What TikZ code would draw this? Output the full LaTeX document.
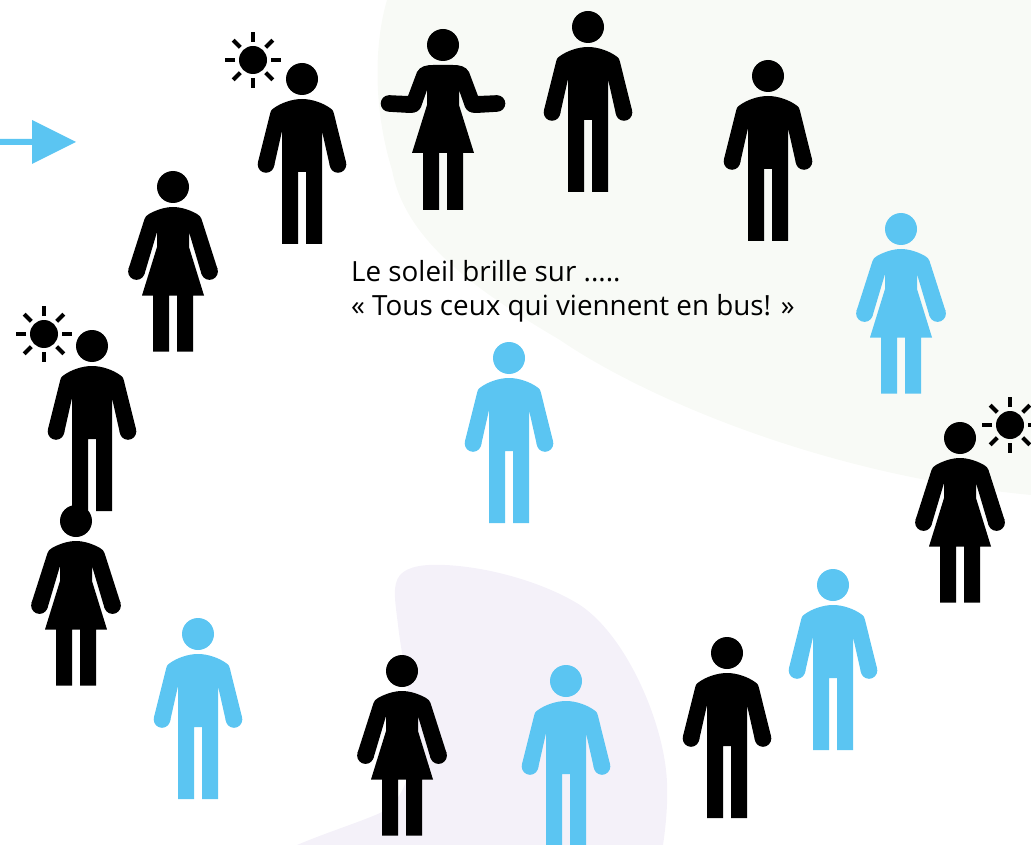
\documentclass[tikz,border=0pt]{standalone}
\usepackage{fontspec}
\setmainfont{Open Sans}
\definecolor{bluefig}{HTML}{5BC5F2}
\definecolor{blobgreen}{HTML}{F8FAF6}
\definecolor{blobpurple}{HTML}{F4F1F9}
\tikzset{
  canvas/.style={x=1pt,y=-1pt},
  caption/.style={anchor=base west,inner sep=0pt,font=\fontsize{27.8}{32}\selectfont},
}
\newcommand{\manfig}[3]{\begin{scope}[shift={(#1,#2)},fill=#3]
  \fill (0,0) circle (16);
  \fill (-36,85.5) circle (8.3) (36,85.5) circle (8.3);
  \fill (-32,35) .. controls (-31,31) and (-30,30) .. (-28,29) .. controls (-21,24) and (-10,20) .. (0,20)
    .. controls (10,20) and (21,24) .. (28,29) .. controls (30,30) and (31,31) .. (32,35)
    -- (44.1,83.5) -- (28,87.5) -- (20,52)
    -- (20,165) -- (4,165) -- (4,93) -- (-4,93) -- (-4,165) -- (-20,165) -- (-20,52)
    -- (-28,87.5) -- (-44.1,83.5) -- cycle;
\end{scope}}
\newcommand{\womanfig}[3]{\begin{scope}[shift={(#1,#2)},fill=#3]
  \fill (0,0) circle (16);
  \fill (-36.5,84.5) circle (8.4) (36.5,84.5) circle (8.4);
  \fill (-28.5,32) .. controls (-28,30) and (-26,28) .. (-24,27) .. controls (-17,23) and (-8,20) .. (0,20)
    .. controls (8,20) and (17,23) .. (24,27) .. controls (26,28) and (28,30) .. (28.5,32)
    -- (44.5,82) -- (28.5,87) -- (16,45) -- (16,60) -- (31,108.5)
    -- (20,108.5) -- (20,164.5) -- (4,164.5) -- (4,108.5) -- (-4,108.5) -- (-4,164.5) -- (-20,164.5) -- (-20,108.5) -- (-31,108.5)
    -- (-16,60) -- (-16,45) -- (-28.5,87) -- (-44.5,82) -- cycle;
\end{scope}}
\newcommand{\shrugfig}[3]{\begin{scope}[shift={(#1,#2)},fill=#3]
  \fill (0,0) circle (16);
  \fill (-54,58.5) circle (8.3) (54,58.5) circle (8.3);
  \fill (-26,27) .. controls (-23,21) and (-16,20) .. (-10,20) -- (10,20) .. controls (16,20) and (23,21) .. (26,27)
    -- (35,51) -- (54,50.2) -- (54,66.8) -- (33,68)
    .. controls (27,68) and (24,66) .. (22,62) -- (16,45) -- (16,60) -- (31,108)
    -- (20,108) -- (20,165) -- (4,165) -- (4,108) -- (-4,108) -- (-4,165) -- (-20,165) -- (-20,108) -- (-31,108)
    -- (-16,60) -- (-16,45) -- (-22,62) .. controls (-24,66) and (-27,68) .. (-33,68)
    -- (-54,66.8) -- (-54,50.2) -- (-35,51) -- cycle;
\end{scope}}
\newcommand{\sunfig}[2]{\begin{scope}[shift={(#1,#2)}]
  \fill (0,0) circle (14);
  \foreach \a in {0,45,...,315}{\draw[line width=4.2pt,rotate=\a] (18,0) -- (28,0);}
\end{scope}}
\begin{document}
\begin{tikzpicture}[canvas]
\useasboundingbox (0,0) rectangle (1031,845);
% background blobs
\fill[blobgreen] (387,0) .. controls (375,40) and (372,105) .. (392,170)
  .. controls (405,240) and (475,290) .. (560,340)
  .. controls (640,395) and (820,475) .. (1031,495) -- (1031,0) -- cycle;
\fill[blobpurple] (297,845) .. controls (325,833) and (360,822) .. (380,813)
  .. controls (400,803) and (412,780) .. (412,740)
  .. controls (412,700) and (402,660) .. (398,625)
  .. controls (395,600) and (392,585) .. (400,575)
  .. controls (408,566) and (425,564) .. (445,565)
  .. controls (490,567) and (545,583) .. (580,605)
  .. controls (625,635) and (660,715) .. (666,770)
  .. controls (669,795) and (666,825) .. (663,845) -- cycle;
% arrow
\fill[bluefig] (0,139) -- (32,139) -- (32,120) -- (76,142) -- (32,164) -- (32,145) -- (0,145) -- cycle;
% figures
\manfig{302}{79}{black}
\shrugfig{443}{45}{black}
\manfig{588}{27}{black}
\manfig{768}{76}{black}
\womanfig{173}{187}{black}
\womanfig{901}{229}{bluefig}
\manfig{92}{346}{black}
\manfig{509}{358}{bluefig}
\womanfig{960}{438}{black}
\womanfig{76}{521}{black}
\manfig{198}{634}{bluefig}
\womanfig{402}{671}{black}
\manfig{566}{681}{bluefig}
\manfig{727}{653}{black}
\manfig{833}{585}{bluefig}
% suns
\sunfig{253}{60}
\sunfig{44}{334}
\sunfig{1010}{425}
% text
\node[caption] (line1) at (351,281) {Le soleil brille sur .....};
\node[caption] (line2) at (351,315) {« Tous ceux qui viennent en bus! »};
\end{tikzpicture}
\end{document}
